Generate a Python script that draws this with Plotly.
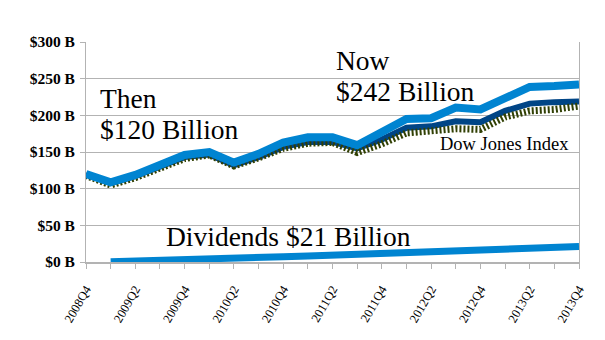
import plotly.graph_objects as go

# Quarter labels, 2008Q4 .. 2013Q4
quarters = ["2008Q4",
            "2009Q1", "2009Q2", "2009Q3", "2009Q4",
            "2010Q1", "2010Q2", "2010Q3", "2010Q4",
            "2011Q1", "2011Q2", "2011Q3", "2011Q4",
            "2012Q1", "2012Q2", "2012Q3", "2012Q4",
            "2013Q1", "2013Q2", "2013Q3", "2013Q4"]

# Portfolio value including dividends ($ billions)
total_value = [120, 108.6, 118.7, 132, 146, 150, 135.6, 147.5, 163, 170, 170,
               159.3, 177, 195, 196, 210.5, 208, 224, 238.8, 240, 242]

# Portfolio value, price only ($ billions)
price_value = [120, 107.5, 117, 130, 143, 146.5, 132, 143, 157, 163.5, 164,
               155, 167, 183, 185, 192, 190.5, 206, 216, 218, 219]

# Dow Jones Index, scaled to the same start ($ billions)
dow_index = [118, 105, 115, 128, 141, 146, 131, 142, 155, 162, 163,
             149.3, 161, 176, 178, 181.7, 180.8, 197.7, 206, 208, 212.8]

# Cumulative dividends from 2009Q1 ($ billions)
dividends = [0.5, 1.8, 2.7, 3.6, 4.5, 5.4, 6.3, 7.2, 8.1, 9.1,
             10.1, 11.1, 12.1, 13.2, 14.3, 15.5, 16.7, 17.9, 19.2, 21.0]

y_ticks = [0, 50, 100, 150, 200, 250, 300]
y_tick_text = ["$0 B", "$50 B", "$100 B", "$150 B", "$200 B", "$250 B", "$300 B"]

LIGHT = "#0084d1"
DARK = "#004586"
OLIVE = "#314004"
GRID = "#b3b3b3"
SERIF = "'Liberation Serif', 'Times New Roman', Times, 'DejaVu Serif', serif"

fig = go.Figure()
fig.add_trace(go.Scatter(x=quarters, y=price_value, mode="lines",
                         line=dict(color=DARK, width=6)))
fig.add_trace(go.Scatter(x=quarters, y=dow_index, mode="lines",
                         line=dict(color=OLIVE, width=7, dash="2px,2px")))
fig.add_trace(go.Scatter(x=quarters, y=total_value, mode="lines",
                         line=dict(color=LIGHT, width=8)))
fig.add_trace(go.Scatter(x=quarters[1:], y=dividends, mode="lines",
                         line=dict(color=LIGHT, width=7)))

tick_text_x = [q if i % 2 == 0 else "" for i, q in enumerate(quarters)]

fig.update_xaxes(
    type="category", range=[0, len(quarters) - 1],
    tickvals=quarters, ticktext=tick_text_x, tickangle=-60,
    tickfont=dict(family=SERIF, size=12.5, color="black"),
    ticklabelstandoff=8,
    showgrid=False, showline=True, linecolor=GRID, linewidth=2,
    ticks="outside", ticklen=5, tickcolor=GRID, tickwidth=1,
    zeroline=False,
)
fig.update_yaxes(
    range=[0, 300], tickvals=y_ticks, ticktext=y_tick_text,
    tickfont=dict(family=SERIF, size=15.5, color="black", weight="bold"),
    showgrid=True, gridcolor=GRID, gridwidth=1,
    showline=True, linecolor=GRID, linewidth=1, mirror=True,
    ticks="outside", ticklen=5, tickcolor=GRID,
    ticklabelstandoff=2,
    zeroline=False,
)

def label(text, x, y, size):
    fig.add_annotation(text=text, x=x, y=y, xref="x", yref="y",
                       xanchor="left", yanchor="middle", showarrow=False,
                       font=dict(family=SERIF, size=size, color="black"))

label("Then", 0.48, 222.8, 27.5)
label("$120 Billion", 0.48, 180.4, 27.5)
label("Now", 10.05, 274.5, 27.5)
label("$242 Billion", 10.05, 232.3, 27.5)
label("Dividends $21 Billion", 3.18, 34.2, 27.5)
label("Dow Jones Index", 14.28, 161.3, 18.5)

fig.update_layout(
    width=605, height=340,
    margin=dict(l=86, r=26, t=42, b=78),
    paper_bgcolor="white", plot_bgcolor="white",
    showlegend=False,
)

fig.write_html("out.html")
